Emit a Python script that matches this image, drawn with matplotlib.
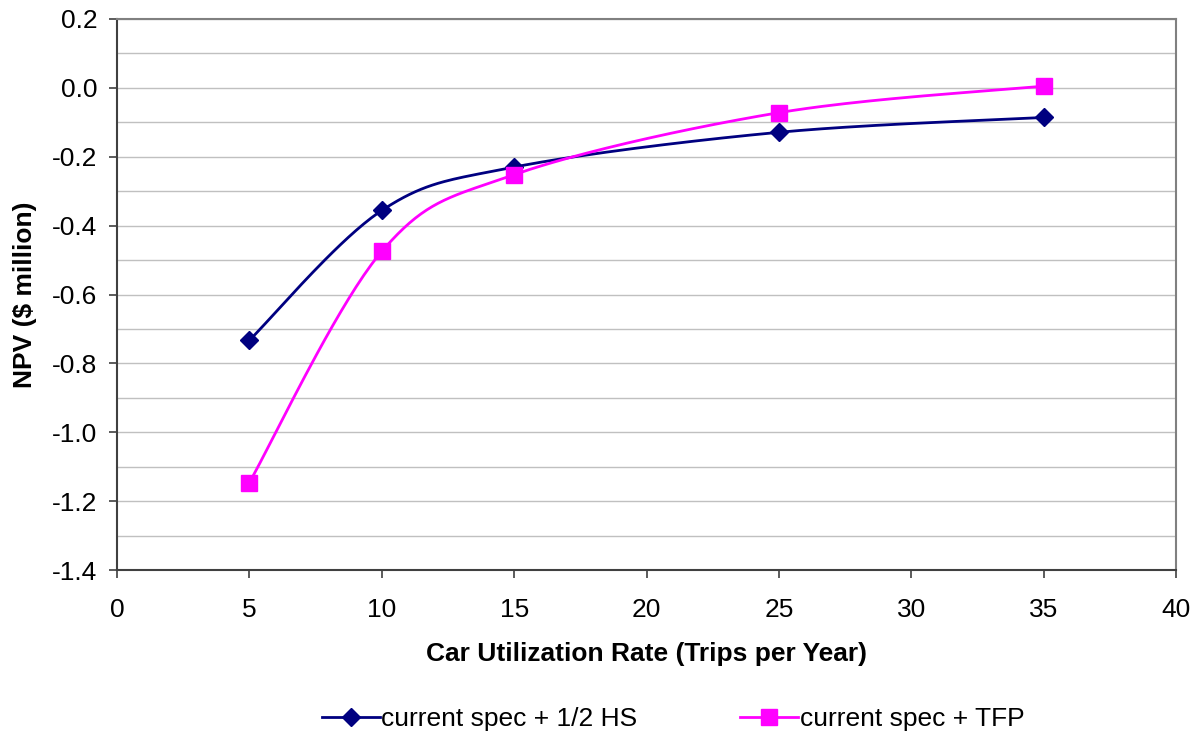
import numpy as np
import matplotlib
matplotlib.use("Agg")
import matplotlib.pyplot as plt
from matplotlib.ticker import MultipleLocator, FormatStrFormatter
from matplotlib.lines import Line2D

plt.rcParams['font.family'] = ['Liberation Sans', 'DejaVu Sans']

x_vals = [5, 10, 15, 25, 35]
hs_vals = [-0.733, -0.356, -0.230, -0.129, -0.086]
tfp_vals = [-1.146, -0.475, -0.252, -0.072, 0.005]
series_names = ["current spec + 1/2 HS", "current spec + TFP"]


def smooth(xs, ys, n=40):
    xs = np.asarray(xs, float)
    ys = np.asarray(ys, float)
    P = np.column_stack([xs, ys])
    out = []
    for i in range(len(P) - 1):
        p0 = P[i - 1] if i > 0 else P[i]
        p1 = P[i]
        p2 = P[i + 1]
        p3 = P[i + 2] if i + 2 < len(P) else P[i + 1]
        c1 = p1 + (p2 - p0) / 6.0
        c2 = p2 - (p3 - p1) / 6.0
        t = np.linspace(0, 1, n)[:, None]
        seg = ((1 - t) ** 3) * p1 + 3 * ((1 - t) ** 2) * t * c1 + 3 * (1 - t) * t ** 2 * c2 + t ** 3 * p2
        out.append(seg if i == 0 else seg[1:])
    s = np.vstack(out)
    return s[:, 0], s[:, 1]


fig = plt.figure(figsize=(12.04, 7.34), dpi=100)
ax = fig.add_axes([117 / 1204, 1 - 570 / 734, (1176 - 117) / 1204, (570 - 19) / 734])

ax.set_xlim(0, 40)
ax.set_ylim(-1.4, 0.2)
ax.yaxis.set_major_locator(MultipleLocator(0.2))
ax.yaxis.set_minor_locator(MultipleLocator(0.1))
ax.xaxis.set_major_locator(MultipleLocator(5))
ax.yaxis.set_major_formatter(FormatStrFormatter('%.1f'))
ax.grid(True, which='both', axis='y', color='#c0c0c0', linewidth=1.0, zorder=0)
ax.set_axisbelow(True)

blue = '#000080'
mag = '#ff00ff'

sx, sy = smooth(x_vals, hs_vals)
ax.plot(sx, sy, color=blue, linewidth=2.0, zorder=3)
ax.plot(x_vals, hs_vals, linestyle='none', marker='D', markersize=9, color=blue, zorder=4)
sx, sy = smooth(x_vals, tfp_vals)
ax.plot(sx, sy, color=mag, linewidth=2.0, zorder=3)
ax.plot(x_vals, tfp_vals, linestyle='none', marker='s', markersize=11, color=mag, zorder=4)

for side in ['top', 'right']:
    ax.spines[side].set_color('#808080')
    ax.spines[side].set_linewidth(1.5)
for side in ['left', 'bottom']:
    ax.spines[side].set_color('#404040')
    ax.spines[side].set_linewidth(1.5)

ax.tick_params(axis='both', which='major', direction='out', length=6, width=1.2, color='#404040', labelsize=19)
ax.tick_params(axis='y', which='minor', left=False)
ax.tick_params(axis='y', pad=8)
ax.tick_params(axis='x', pad=14)

ax.set_xlabel("Car Utilization Rate (Trips per Year)", fontsize=19, fontweight='bold')
ax.set_ylabel("NPV ($ million)", fontsize=19, fontweight='bold')
ax.xaxis.set_label_coords(0.5, -(642 - 570) / 551)
ax.yaxis.set_label_coords((37 - 117) / 1059, 0.5)

h1 = Line2D([], [], color=blue, linewidth=2.0, marker='D', markersize=9)
h2 = Line2D([], [], color=mag, linewidth=2.0, marker='s', markersize=11)
fig.legend([h1, h2], series_names, loc='center', bbox_to_anchor=(673 / 1204, 1 - 719 / 734),
           ncol=2, frameon=False, fontsize=19, handlelength=2.2, columnspacing=3.9,
           handletextpad=0.05, borderpad=0)

fig.savefig("out.png", dpi=100)
